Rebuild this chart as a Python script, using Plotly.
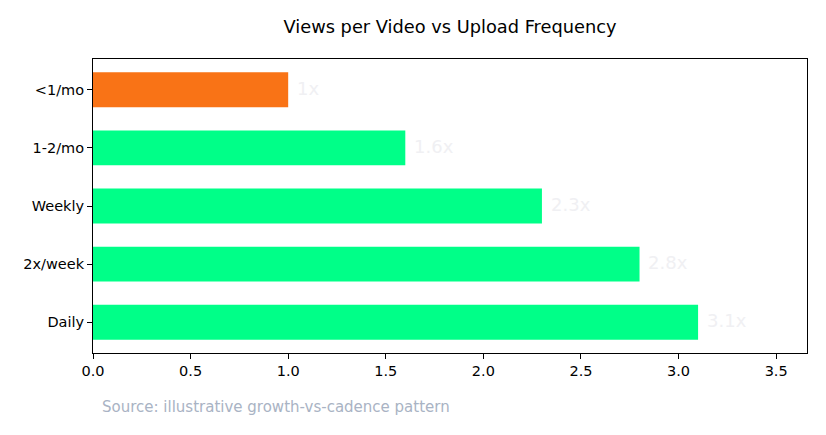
import plotly.graph_objects as go

# bottom to top, as drawn
categories = ["Daily", "2x/week", "Weekly", "1-2/mo", "<1/mo"]
views_mult = [3.1, 2.8, 2.3, 1.6, 1.0]
labels = ["3.1x", "2.8x", "2.3x", "1.6x", "1x"]
bar_colors = ["#00ff88", "#00ff88", "#00ff88", "#00ff88", "#f97316"]

font = "DejaVu Sans"
W, H = 826, 435
OFF = 8  # page body offset
ML, MR, MT, MB = 93 - OFF, 19 + OFF, 59 - OFF, 82 + OFF
plot_w = W - ML - MR
plot_h = H - MT - MB

fig = go.Figure(go.Bar(
    x=views_mult,
    y=list(range(len(categories))),
    orientation="h",
    width=0.6,
    marker=dict(color=bar_colors, line=dict(width=0)),
    hoverinfo="skip",
))

annotations = []
for i, (v, lab) in enumerate(zip(views_mult, labels)):
    annotations.append(dict(
        x=v + 0.035, y=i, xref="x", yref="y", text=lab, showarrow=False,
        xanchor="left", yanchor="middle", yshift=1.5,
        font=dict(family=font, size=18, color="#f0f0f3"),
    ))

# source note, pixel position converted to paper fraction
annotations.append(dict(
    x=(100 - OFF - ML) / plot_w, y=(H - MB - (407 - OFF)) / plot_h, xref="paper", yref="paper",
    text="Source: illustrative growth-vs-cadence pattern",
    showarrow=False, xanchor="left", yanchor="middle",
    font=dict(family=font, size=15, color="#a9b3c4"),
))

fig.update_layout(
    width=W, height=H,
    margin=dict(l=ML, r=MR, t=MT, b=MB),
    paper_bgcolor="white", plot_bgcolor="white",
    showlegend=False,
    title=dict(text="Views per Video vs Upload Frequency", x=(ML + plot_w / 2) / W, xanchor="center",
               y=1 - (27 - OFF) / H, yanchor="middle",
               font=dict(family=font, size=17.8, color="black")),
    font=dict(family=font, size=14.5, color="black"),
    xaxis=dict(range=[0, 3.658], tickvals=[0, 0.5, 1, 1.5, 2, 2.5, 3, 3.5],
               ticktext=["0.0", "0.5", "1.0", "1.5", "2.0", "2.5", "3.0", "3.5"],
               ticks="outside", ticklen=5, tickcolor="black", showgrid=False,
               zeroline=False, showline=True, linecolor="black", linewidth=1, mirror=True),
    yaxis=dict(range=[-0.53, 4.53], tickvals=list(range(len(categories))), ticktext=categories,
               ticks="outside", ticklen=5, tickcolor="black", showgrid=False,
               zeroline=False, showline=True, linecolor="black", linewidth=1, mirror=True),
    annotations=annotations,
)

fig.write_html("out.html")
